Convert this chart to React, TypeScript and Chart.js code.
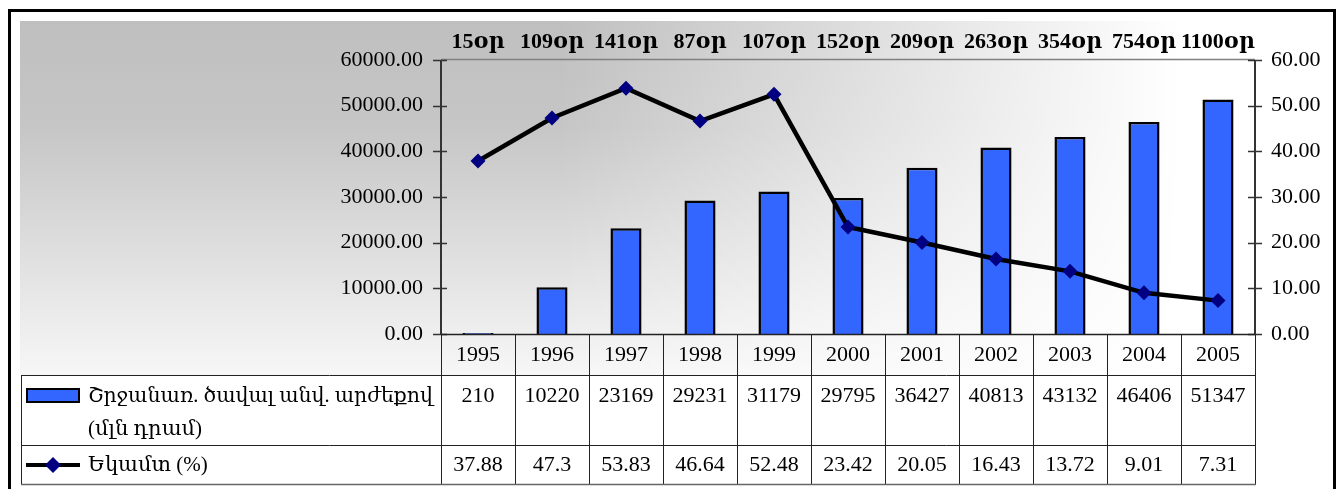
import { useEffect, useRef } from 'react';
import { Chart, registerables } from 'chart.js';

Chart.register(...registerables);

const years = ['1995', '1996', '1997', '1998', '1999', '2000', '2001', '2002', '2003', '2004', '2005'];
const turnover = [210, 10220, 23169, 29231, 31179, 29795, 36427, 40813, 43132, 46406, 51347];
const income = [37.88, 47.3, 53.83, 46.64, 52.48, 23.42, 20.05, 16.43, 13.72, 9.01, 7.31];
const dayLabels = ['15օր', '109օր', '141օր', '87օր', '107օր', '152օր', '209օր', '263օր', '354օր', '754օր', '1100օր'];
const turnoverName = 'Շրջանառ. ծավալ անվ. արժեքով';
const turnoverUnit = '(մլն դրամ)';
const incomeName = 'Եկամտ (%)';
const leftMax = 60000;
const leftStep = 10000;
const rightMax = 60;
const rightStep = 10;

const SERIF = "'Liberation Serif', 'Times New Roman', Times, 'DejaVu Serif', serif";
const BAR_BLUE = '#3366FF';
const NAVY = '#000080';

const decorPlugin = {
  id: 'decor',
  beforeDraw(chart: any) {
    const { ctx, width, height } = chart;
    ctx.save();
    ctx.fillStyle = '#ffffff';
    ctx.fillRect(0, 0, width, height);
    const g = ctx.createLinearGradient(0, 21, 0, 376);
    g.addColorStop(0, '#bfbfbf');
    g.addColorStop(0.3, '#c6c6c6');
    g.addColorStop(1, '#f7f7f7');
    ctx.fillStyle = g;
    ctx.fillRect(20, 21, 1313, 355);
    const h = ctx.createLinearGradient(560, 0, 1180, 0);
    h.addColorStop(0, 'rgba(255,255,255,0)');
    h.addColorStop(1, 'rgba(255,255,255,1)');
    ctx.fillStyle = h;
    ctx.fillRect(20, 21, 1313, 355);
    ctx.strokeStyle = '#000';
    ctx.lineWidth = 3;
    ctx.strokeRect(9.5, 10.5, 1325, 490);
    ctx.restore();
  },
  afterDraw(chart: any) {
    const { ctx, chartArea: ca, scales } = chart;
    const x = scales.x;
    const yL = scales.y;
    const yR = scales.y1;
    ctx.save();
    ctx.strokeStyle = '#808080';
    ctx.lineWidth = 1.5;
    ctx.beginPath();
    ctx.moveTo(ca.left, ca.top - 0.5);
    ctx.lineTo(ca.right, ca.top - 0.5);
    ctx.stroke();
    ctx.strokeStyle = '#333';
    ctx.lineWidth = 2;
    ctx.beginPath();
    ctx.moveTo(ca.left, ca.top);
    ctx.lineTo(ca.left, ca.bottom);
    ctx.moveTo(ca.right, ca.top);
    ctx.lineTo(ca.right, ca.bottom);
    ctx.stroke();
    ctx.lineWidth = 1.5;
    ctx.beginPath();
    yL.ticks.forEach((t: any) => {
      const py = Math.round(yL.getPixelForValue(t.value)) + 0.5;
      ctx.moveTo(ca.left - 8, py);
      ctx.lineTo(ca.left + 6, py);
    });
    yR.ticks.forEach((t: any) => {
      const py = Math.round(yR.getPixelForValue(t.value)) + 0.5;
      ctx.moveTo(ca.right - 7, py);
      ctx.lineTo(ca.right + 7, py);
    });
    ctx.stroke();
    ctx.strokeStyle = '#222';
    ctx.lineWidth = 1.5;
    ctx.beginPath();
    ctx.moveTo(ca.left, ca.bottom + 0.5);
    ctx.lineTo(ca.right, ca.bottom + 0.5);
    ctx.stroke();

    ctx.fillStyle = '#000';
    ctx.font = `bold 22px ${SERIF}`;
    ctx.textAlign = 'center';
    ctx.textBaseline = 'alphabetic';
    dayLabels.forEach((lbl, i) => {
      ctx.fillText(lbl, x.getPixelForValue(i), 48);
    });

    const top = ca.bottom + 1;
    const r1 = ca.bottom + 41;
    const r2 = ca.bottom + 111;
    const r3 = ca.bottom + 150;
    const tl = 21;
    const bounds: number[] = [ca.left];
    for (let i = 1; i < years.length; i++) {
      bounds.push((x.getPixelForValue(i - 1) + x.getPixelForValue(i)) / 2);
    }
    bounds.push(ca.right);
    ctx.strokeStyle = '#222';
    ctx.lineWidth = 1;
    ctx.beginPath();
    bounds.forEach((b) => {
      const bx = Math.round(b) + 0.5;
      ctx.moveTo(bx, top);
      ctx.lineTo(bx, r3);
    });
    ctx.moveTo(tl + 0.5, r1);
    ctx.lineTo(tl + 0.5, r3);
    [r1, r2].forEach((ry) => {
      ctx.moveTo(tl, ry + 0.5);
      ctx.lineTo(ca.right, ry + 0.5);
    });
    ctx.stroke();
    ctx.strokeStyle = '#666';
    ctx.lineWidth = 1.5;
    ctx.beginPath();
    ctx.moveTo(tl, r3 + 0.5);
    ctx.lineTo(ca.right + 1, r3 + 0.5);
    ctx.stroke();

    ctx.font = `22px ${SERIF}`;
    ctx.textAlign = 'center';
    ctx.textBaseline = 'middle';
    ctx.fillStyle = '#000';
    years.forEach((yr, i) => {
      const cx = x.getPixelForValue(i);
      ctx.fillText(yr, cx, top + 20);
      ctx.fillText(String(turnover[i]), cx, r1 + 21);
      ctx.fillText(String(income[i]), cx, r2 + 20);
    });

    ctx.fillStyle = BAR_BLUE;
    ctx.fillRect(27, 389, 52, 13);
    ctx.strokeStyle = '#000';
    ctx.lineWidth = 2;
    ctx.strokeRect(27, 389, 52, 13);
    ctx.fillStyle = '#000';
    ctx.textAlign = 'left';
    ctx.font = `21px ${SERIF}`;
    ctx.fillText(turnoverName, 88, r1 + 21, 345);
    ctx.fillText(turnoverUnit, 88, r1 + 54);
    ctx.strokeStyle = '#000';
    ctx.lineWidth = 4;
    ctx.beginPath();
    ctx.moveTo(26, r2 + 20);
    ctx.lineTo(80, r2 + 20);
    ctx.stroke();
    ctx.fillStyle = NAVY;
    ctx.beginPath();
    const dx = 53;
    const dy = r2 + 20;
    ctx.moveTo(dx, dy - 8);
    ctx.lineTo(dx + 8, dy);
    ctx.lineTo(dx, dy + 8);
    ctx.lineTo(dx - 8, dy);
    ctx.closePath();
    ctx.fill();
    ctx.fillStyle = '#000';
    ctx.fillText(incomeName, 88, r2 + 20);
    ctx.restore();
  },
};

export default function App() {
  const ref = useRef<HTMLCanvasElement | null>(null);
  useEffect(() => {
    document.body.style.margin = '0';
    const canvas = ref.current;
    if (!canvas) return;
    const chart = new Chart(canvas, {
      type: 'bar',
      data: {
        labels: years,
        datasets: [
          {
            type: 'line',
            label: incomeName,
            data: income,
            yAxisID: 'y1',
            borderColor: '#000',
            borderWidth: 4.5,
            pointStyle: 'rectRot',
            pointRadius: 7.5,
            pointBackgroundColor: NAVY,
            pointBorderColor: NAVY,
            pointBorderWidth: 0,
            tension: 0,
            order: 0,
          },
          {
            type: 'bar',
            label: turnoverName,
            data: turnover,
            yAxisID: 'y',
            backgroundColor: BAR_BLUE,
            borderColor: '#000',
            borderWidth: 2.5,
            barPercentage: 0.42,
            categoryPercentage: 1,
            order: 1,
          },
        ],
      },
      options: {
        responsive: false,
        animation: false,
        devicePixelRatio: 1,
        layout: { padding: { left: 0, right: 0, top: 60, bottom: 155 } },
        plugins: { legend: { display: false }, tooltip: { enabled: false }, title: { display: false } },
        scales: {
          x: { display: false, offset: true },
          y: {
            position: 'left',
            min: 0,
            max: leftMax,
            grid: { display: false, drawTicks: false },
            border: { display: false },
            ticks: {
              stepSize: leftStep,
              padding: 18,
              color: '#000',
              font: { family: SERIF, size: 22 },
              callback: (v: any) => Number(v).toFixed(2),
            },
            afterFit: (s: any) => {
              s.width = 441;
            },
          },
          y1: {
            position: 'right',
            min: 0,
            max: rightMax,
            grid: { display: false, drawTicks: false },
            border: { display: false },
            ticks: {
              stepSize: rightStep,
              padding: 16,
              color: '#000',
              font: { family: SERIF, size: 22 },
              callback: (v: any) => Number(v).toFixed(2),
            },
            afterFit: (s: any) => {
              s.width = 1338 - 1255;
            },
          },
        },
      },
      plugins: [decorPlugin],
    } as any);
    return () => chart.destroy();
  }, []);
  return <canvas ref={ref} width={1338} height={489} style={{ display: 'block' }} />;
}
